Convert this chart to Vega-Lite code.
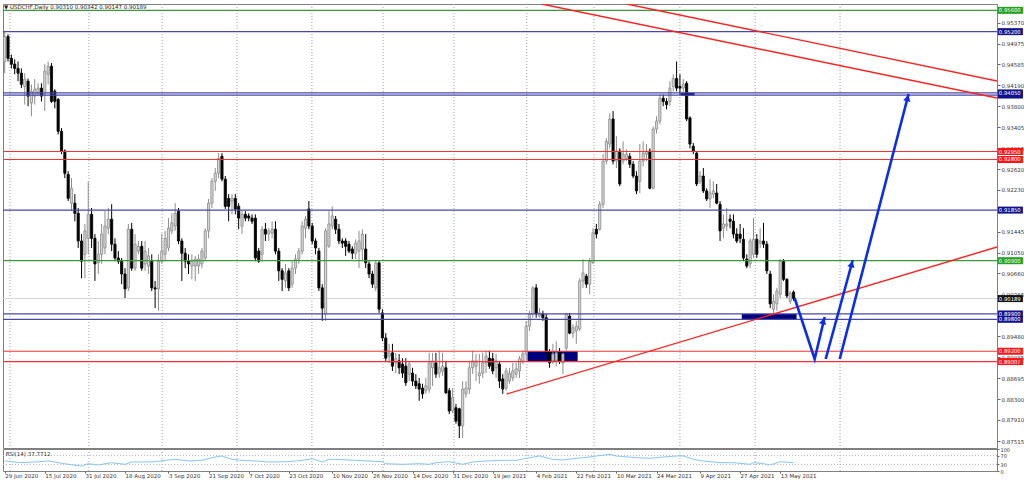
{
"$schema": "https://vega.github.io/schema/vega-lite/v6.json",
"background": "white",
"padding": {"left": 2, "top": 3, "right": 0, "bottom": 0},
"spacing": 1,
"bounds": "flush",
"config": {
 "view": {"stroke": "#808080", "strokeWidth": 1},
 "font": "DejaVu Sans",
 "scale": {"continuousPadding": 0},
 "axis": {"labelFont": "DejaVu Sans", "labelFontSize": 5.5, "labelColor": "#333333", "tickColor": "#666666", "domain": false, "grid": false}
},
"datasets": {
 "months": [{"i":1.6},{"i":25.2},{"i":47.1},{"i":69.5},{"i":91.9},{"i":113.2},{"i":134.4},{"i":156.2},{"i":176.3},{"i":202},{"i":224.5},{"i":249.9}],
 "levels": [
  {"p":0.956,"kind":"target"},{"p":0.952,"kind":"level"},{"p":0.9401,"kind":"level"},{"p":0.9405,"kind":"level"},
  {"p":0.9295,"kind":"zone"},{"p":0.928,"kind":"zone"},{"p":0.9185,"kind":"level"},{"p":0.909,"kind":"target"},
  {"p":0.899,"kind":"level"},{"p":0.898,"kind":"level"},{"p":0.892,"kind":"zone"},{"p":0.89007,"kind":"zone"}
 ],
 "tags": [
  {"p":0.956,"kind":"target"},{"p":0.952,"kind":"level"},{"p":0.9401,"kind":"level"},{"p":0.9405,"kind":"level"},
  {"p":0.928,"kind":"zone"},{"p":0.9295,"kind":"zone"},{"p":0.9185,"kind":"level"},{"p":0.909,"kind":"target"},
  {"p":0.90189,"kind":"bid"},{"p":0.898,"kind":"level"},{"p":0.899,"kind":"level"},{"p":0.89007,"kind":"zone"},{"p":0.892,"kind":"zone"}
 ],
 "tagtexts": [
  {"p":0.956},{"p":0.952},{"p":0.9405},{"p":0.928},{"p":0.9295},{"p":0.9185},{"p":0.909},{"p":0.90189},{"p":0.898},{"p":0.899},{"p":0.89007},{"p":0.892}
 ],
 "boxes": [
  {"i1":156.4,"i2":171.4,"p1":0.892,"p2":0.89007},
  {"i1":220.5,"i2":236.9,"p1":0.899,"p2":0.898},
  {"i1":202.2,"i2":206.4,"p1":0.9405,"p2":0.94}
 ],
 "trend": [
  {"id":"t1","s":0,"i":160.6,"p":0.95719},{"id":"t1","s":1,"i":296.85,"p":0.93954},
  {"id":"t2","s":0,"i":186.1,"p":0.95719},{"id":"t2","s":1,"i":296.85,"p":0.94273},
  {"id":"t3","s":0,"i":150.2,"p":0.88398},{"id":"t3","s":1,"i":296.85,"p":0.91157}
 ],
 "arrows": [
  {"id":"a1","s":0,"i":236.3,"p":0.902},{"id":"a1","s":1,"i":242.3,"p":0.89055},{"id":"a1","s":2,"i":245.3,"p":0.89843},
  {"id":"a2","s":0,"i":245.6,"p":0.89055},{"id":"a2","s":1,"i":253.7,"p":0.90913},
  {"id":"a3","s":0,"i":249.8,"p":0.89055},{"id":"a3","s":1,"i":270.4,"p":0.94029}
 ],
 "heads": [{"id":"a1","i":244.9,"p":0.89768},{"id":"a2","i":253.4,"p":0.90838},{"id":"a3","i":270.1,"p":0.93954}],
 "rsi": [
  {"i":0,"v":45.5},{"i":2,"v":42.4},{"i":5,"v":37.9},{"i":9,"v":40.9},{"i":13,"v":45.5},{"i":15,"v":40.9},{"i":19,"v":30.3},{"i":23,"v":22.7},{"i":25,"v":33.3},{"i":28,"v":27.3},{"i":32,"v":37.9},{"i":36,"v":30.3},{"i":38,"v":40.9},{"i":41,"v":40.9},{"i":45,"v":42.4},{"i":48,"v":48.5},{"i":51,"v":53},{"i":55,"v":45.5},{"i":59,"v":48.5},{"i":62,"v":60.6},{"i":65,"v":68.2},{"i":68,"v":53},{"i":71,"v":48.5},{"i":75,"v":45.5},{"i":79,"v":40.9},{"i":85,"v":42.4},{"i":89,"v":48.5},{"i":92,"v":56},{"i":95,"v":40.9},{"i":97,"v":53},{"i":99,"v":53},{"i":105,"v":48.5},{"i":109,"v":45.5},{"i":113,"v":42.4},{"i":114,"v":33.3},{"i":119,"v":30.3},{"i":124,"v":33.3},{"i":127,"v":30.3},{"i":129,"v":37.9},{"i":133,"v":42.4},{"i":137,"v":30.3},{"i":140,"v":40.9},{"i":144,"v":45.5},{"i":149,"v":48.5},{"i":153,"v":48.5},{"i":157,"v":60.6},{"i":160,"v":68.2},{"i":164,"v":53},{"i":167,"v":50},{"i":171,"v":57.6},{"i":175,"v":63.6},{"i":177,"v":68.2},{"i":181,"v":75.8},{"i":183,"v":68.2},{"i":189,"v":60.6},{"i":193,"v":57.6},{"i":197,"v":63.6},{"i":201,"v":68.2},{"i":203,"v":68.2},{"i":206,"v":53},{"i":209,"v":45.5},{"i":214,"v":37.9},{"i":218,"v":37.9},{"i":223,"v":30.3},{"i":224,"v":37.9},{"i":227,"v":33.3},{"i":229,"v":27.3},{"i":232,"v":42.4},{"i":236,"v":37.77}
 ],
 "candles": [
{"i":0,"o":0.9464,"h":0.9521,"l":0.9442,"c":0.9511},
{"i":1,"o":0.9511,"h":0.9515,"l":0.9464,"c":0.947},
{"i":2,"o":0.947,"h":0.9477,"l":0.9451,"c":0.9459},
{"i":3,"o":0.9459,"h":0.9468,"l":0.944,"c":0.9451},
{"i":4,"o":0.9451,"h":0.9464,"l":0.9427,"c":0.9442},
{"i":5,"o":0.9442,"h":0.9451,"l":0.9414,"c":0.9421},
{"i":6,"o":0.9417,"h":0.9442,"l":0.9383,"c":0.9431},
{"i":7,"o":0.9427,"h":0.9432,"l":0.938,"c":0.9399},
{"i":8,"o":0.9386,"h":0.9421,"l":0.9361,"c":0.9408},
{"i":9,"o":0.9399,"h":0.9431,"l":0.9383,"c":0.9412},
{"i":10,"o":0.9404,"h":0.9423,"l":0.9399,"c":0.9414},
{"i":11,"o":0.9414,"h":0.9423,"l":0.9389,"c":0.9399},
{"i":12,"o":0.9402,"h":0.9459,"l":0.9371,"c":0.9446},
{"i":13,"o":0.944,"h":0.9464,"l":0.9421,"c":0.9455},
{"i":14,"o":0.9455,"h":0.9461,"l":0.9386,"c":0.9389},
{"i":15,"o":0.9408,"h":0.9412,"l":0.9376,"c":0.9389},
{"i":16,"o":0.9393,"h":0.9395,"l":0.9327,"c":0.9333},
{"i":17,"o":0.9333,"h":0.9339,"l":0.929,"c":0.9296},
{"i":18,"o":0.9296,"h":0.9299,"l":0.9245,"c":0.9254},
{"i":19,"o":0.9252,"h":0.9258,"l":0.9202,"c":0.9207},
{"i":20,"o":0.9198,"h":0.9245,"l":0.9183,"c":0.9226},
{"i":21,"o":0.9198,"h":0.9215,"l":0.9164,"c":0.9179},
{"i":22,"o":0.9179,"h":0.9189,"l":0.9114,"c":0.9127},
{"i":23,"o":0.9127,"h":0.914,"l":0.9057,"c":0.9089},
{"i":24,"o":0.9102,"h":0.9159,"l":0.9057,"c":0.9146},
{"i":25,"o":0.9132,"h":0.9239,"l":0.9102,"c":0.9177},
{"i":26,"o":0.9177,"h":0.9189,"l":0.9114,"c":0.9132},
{"i":27,"o":0.9132,"h":0.914,"l":0.9052,"c":0.9084},
{"i":28,"o":0.9086,"h":0.9127,"l":0.9065,"c":0.9102},
{"i":29,"o":0.9102,"h":0.9159,"l":0.9084,"c":0.914},
{"i":30,"o":0.9114,"h":0.9183,"l":0.9102,"c":0.9155},
{"i":31,"o":0.9151,"h":0.9189,"l":0.914,"c":0.9168},
{"i":32,"o":0.9168,"h":0.9196,"l":0.9108,"c":0.9121},
{"i":33,"o":0.9121,"h":0.9132,"l":0.9089,"c":0.9095},
{"i":34,"o":0.9095,"h":0.9108,"l":0.9084,"c":0.9089},
{"i":35,"o":0.9089,"h":0.9095,"l":0.9046,"c":0.9065},
{"i":36,"o":0.9065,"h":0.9076,"l":0.902,"c":0.9037},
{"i":37,"o":0.9039,"h":0.9159,"l":0.9033,"c":0.9149},
{"i":38,"o":0.9149,"h":0.9161,"l":0.9071,"c":0.9076},
{"i":39,"o":0.9076,"h":0.914,"l":0.9071,"c":0.9121},
{"i":40,"o":0.9108,"h":0.9127,"l":0.9102,"c":0.9117},
{"i":41,"o":0.9117,"h":0.9127,"l":0.9071,"c":0.9076},
{"i":42,"o":0.9084,"h":0.9127,"l":0.9071,"c":0.9108},
{"i":43,"o":0.908,"h":0.9114,"l":0.9065,"c":0.9099},
{"i":44,"o":0.9089,"h":0.9102,"l":0.9033,"c":0.9039},
{"i":45,"o":0.9039,"h":0.9052,"l":0.9001,"c":0.9037},
{"i":46,"o":0.9037,"h":0.9102,"l":0.8996,"c":0.9089},
{"i":47,"o":0.9089,"h":0.914,"l":0.9084,"c":0.9108},
{"i":48,"o":0.9102,"h":0.9146,"l":0.9089,"c":0.9132},
{"i":49,"o":0.9114,"h":0.917,"l":0.9108,"c":0.9151},
{"i":50,"o":0.9146,"h":0.9179,"l":0.914,"c":0.9161},
{"i":51,"o":0.9155,"h":0.9198,"l":0.9146,"c":0.9179},
{"i":52,"o":0.9183,"h":0.9189,"l":0.9121,"c":0.9127},
{"i":53,"o":0.9127,"h":0.9132,"l":0.9052,"c":0.9104},
{"i":54,"o":0.9104,"h":0.9114,"l":0.9076,"c":0.9089},
{"i":55,"o":0.9089,"h":0.9102,"l":0.9065,"c":0.9084},
{"i":56,"o":0.908,"h":0.9102,"l":0.9055,"c":0.9089},
{"i":57,"o":0.908,"h":0.9099,"l":0.9052,"c":0.9093},
{"i":58,"o":0.908,"h":0.9102,"l":0.9065,"c":0.9093},
{"i":59,"o":0.9084,"h":0.9114,"l":0.9076,"c":0.9108},
{"i":60,"o":0.9095,"h":0.9151,"l":0.9089,"c":0.9146},
{"i":61,"o":0.9146,"h":0.9206,"l":0.9132,"c":0.9198},
{"i":62,"o":0.9198,"h":0.9245,"l":0.9189,"c":0.9239},
{"i":63,"o":0.9239,"h":0.9264,"l":0.9221,"c":0.9254},
{"i":64,"o":0.9254,"h":0.9292,"l":0.9245,"c":0.9282},
{"i":65,"o":0.9286,"h":0.9292,"l":0.9239,"c":0.9243},
{"i":66,"o":0.9243,"h":0.9249,"l":0.9187,"c":0.9192},
{"i":67,"o":0.9207,"h":0.9215,"l":0.9164,"c":0.9192},
{"i":68,"o":0.9202,"h":0.9215,"l":0.9177,"c":0.9207},
{"i":69,"o":0.9207,"h":0.9215,"l":0.9177,"c":0.9187},
{"i":70,"o":0.9192,"h":0.9198,"l":0.9149,"c":0.917},
{"i":71,"o":0.9155,"h":0.9183,"l":0.914,"c":0.9177},
{"i":72,"o":0.9177,"h":0.9183,"l":0.9164,"c":0.917},
{"i":73,"o":0.9174,"h":0.9179,"l":0.9164,"c":0.917},
{"i":74,"o":0.917,"h":0.9177,"l":0.9159,"c":0.9164},
{"i":75,"o":0.917,"h":0.9177,"l":0.9089,"c":0.9095},
{"i":76,"o":0.9108,"h":0.9114,"l":0.9086,"c":0.9089},
{"i":77,"o":0.9102,"h":0.9155,"l":0.9089,"c":0.9149},
{"i":78,"o":0.9149,"h":0.9161,"l":0.9127,"c":0.914},
{"i":79,"o":0.914,"h":0.9151,"l":0.9127,"c":0.9146},
{"i":80,"o":0.9142,"h":0.9164,"l":0.9132,"c":0.9149},
{"i":81,"o":0.9149,"h":0.9164,"l":0.9102,"c":0.9108},
{"i":82,"o":0.9108,"h":0.9114,"l":0.9052,"c":0.9071},
{"i":83,"o":0.9071,"h":0.9076,"l":0.9033,"c":0.9055},
{"i":84,"o":0.9052,"h":0.9084,"l":0.9039,"c":0.9067},
{"i":85,"o":0.9071,"h":0.9076,"l":0.9033,"c":0.9039},
{"i":86,"o":0.9046,"h":0.9089,"l":0.9039,"c":0.9076},
{"i":87,"o":0.9076,"h":0.9102,"l":0.9065,"c":0.9093},
{"i":88,"o":0.9093,"h":0.9114,"l":0.9084,"c":0.9108},
{"i":89,"o":0.9108,"h":0.9164,"l":0.9102,"c":0.9155},
{"i":90,"o":0.9151,"h":0.9174,"l":0.9132,"c":0.9168},
{"i":91,"o":0.9187,"h":0.9202,"l":0.9149,"c":0.9155},
{"i":92,"o":0.9155,"h":0.9161,"l":0.9121,"c":0.9127},
{"i":93,"o":0.9127,"h":0.9132,"l":0.9102,"c":0.9114},
{"i":94,"o":0.9108,"h":0.9114,"l":0.9033,"c":0.9039},
{"i":95,"o":0.9039,"h":0.9046,"l":0.8977,"c":0.9001},
{"i":96,"o":0.899,"h":0.9151,"l":0.8977,"c":0.9146},
{"i":97,"o":0.9117,"h":0.9183,"l":0.9114,"c":0.9159},
{"i":98,"o":0.9155,"h":0.9192,"l":0.9149,"c":0.9174},
{"i":99,"o":0.9168,"h":0.9174,"l":0.914,"c":0.9149},
{"i":100,"o":0.9149,"h":0.9159,"l":0.9121,"c":0.9127},
{"i":101,"o":0.9127,"h":0.9132,"l":0.9114,"c":0.9123},
{"i":102,"o":0.9127,"h":0.9132,"l":0.9099,"c":0.9117},
{"i":103,"o":0.9121,"h":0.9127,"l":0.9104,"c":0.9108},
{"i":104,"o":0.9112,"h":0.9117,"l":0.9093,"c":0.9104},
{"i":105,"o":0.9104,"h":0.913,"l":0.9093,"c":0.9123},
{"i":106,"o":0.9108,"h":0.9146,"l":0.9076,"c":0.9127},
{"i":107,"o":0.9112,"h":0.9149,"l":0.9089,"c":0.914},
{"i":108,"o":0.9112,"h":0.914,"l":0.9076,"c":0.9086},
{"i":109,"o":0.9084,"h":0.9089,"l":0.9057,"c":0.9065},
{"i":110,"o":0.9065,"h":0.9071,"l":0.9039,"c":0.9046},
{"i":111,"o":0.9039,"h":0.9089,"l":0.9033,"c":0.9086},
{"i":112,"o":0.9086,"h":0.9089,"l":0.8992,"c":0.8999},
{"i":113,"o":0.8992,"h":0.8999,"l":0.8939,"c":0.8945},
{"i":114,"o":0.8945,"h":0.8954,"l":0.8902,"c":0.8907},
{"i":115,"o":0.8911,"h":0.8934,"l":0.8898,"c":0.8917},
{"i":116,"o":0.8917,"h":0.8934,"l":0.8883,"c":0.8892},
{"i":117,"o":0.8898,"h":0.8917,"l":0.8879,"c":0.8906},
{"i":118,"o":0.8902,"h":0.8915,"l":0.8877,"c":0.8889},
{"i":119,"o":0.8896,"h":0.8907,"l":0.887,"c":0.8879},
{"i":120,"o":0.8892,"h":0.8907,"l":0.8855,"c":0.8861},
{"i":121,"o":0.8877,"h":0.8902,"l":0.8864,"c":0.8896},
{"i":122,"o":0.8879,"h":0.8889,"l":0.8855,"c":0.8864},
{"i":123,"o":0.8864,"h":0.8877,"l":0.8849,"c":0.8855},
{"i":124,"o":0.8859,"h":0.887,"l":0.8827,"c":0.8849},
{"i":125,"o":0.8851,"h":0.8859,"l":0.8831,"c":0.884},
{"i":126,"o":0.8846,"h":0.887,"l":0.884,"c":0.8855},
{"i":127,"o":0.8849,"h":0.8917,"l":0.8842,"c":0.8898},
{"i":128,"o":0.8889,"h":0.8917,"l":0.8855,"c":0.8902},
{"i":129,"o":0.8898,"h":0.8917,"l":0.887,"c":0.8877},
{"i":130,"o":0.8879,"h":0.8921,"l":0.887,"c":0.8889},
{"i":131,"o":0.8883,"h":0.8917,"l":0.8874,"c":0.8892},
{"i":132,"o":0.8889,"h":0.8902,"l":0.884,"c":0.8842},
{"i":133,"o":0.8846,"h":0.8851,"l":0.8802,"c":0.8808},
{"i":134,"o":0.8808,"h":0.8851,"l":0.8804,"c":0.8833},
{"i":135,"o":0.8814,"h":0.8821,"l":0.8784,"c":0.8789},
{"i":136,"o":0.8812,"h":0.8814,"l":0.8757,"c":0.878},
{"i":137,"o":0.878,"h":0.8864,"l":0.8757,"c":0.8849},
{"i":138,"o":0.884,"h":0.8864,"l":0.8833,"c":0.8851},
{"i":139,"o":0.8849,"h":0.8902,"l":0.884,"c":0.8889},
{"i":140,"o":0.8889,"h":0.8921,"l":0.8877,"c":0.8902},
{"i":141,"o":0.8892,"h":0.8915,"l":0.8864,"c":0.8902},
{"i":142,"o":0.8874,"h":0.8915,"l":0.8859,"c":0.8879},
{"i":143,"o":0.8879,"h":0.8917,"l":0.887,"c":0.8898},
{"i":144,"o":0.8898,"h":0.8921,"l":0.8879,"c":0.8911},
{"i":145,"o":0.8907,"h":0.8921,"l":0.8887,"c":0.8892},
{"i":146,"o":0.8906,"h":0.8917,"l":0.8877,"c":0.8883},
{"i":147,"o":0.8889,"h":0.8915,"l":0.887,"c":0.8902},
{"i":148,"o":0.8896,"h":0.8902,"l":0.8851,"c":0.8864},
{"i":149,"o":0.8868,"h":0.8877,"l":0.884,"c":0.8849},
{"i":150,"o":0.8851,"h":0.8889,"l":0.8846,"c":0.8883},
{"i":151,"o":0.8864,"h":0.8889,"l":0.8859,"c":0.8879},
{"i":152,"o":0.887,"h":0.8898,"l":0.8864,"c":0.8883},
{"i":153,"o":0.8877,"h":0.8898,"l":0.887,"c":0.8887},
{"i":154,"o":0.8883,"h":0.8911,"l":0.887,"c":0.8906},
{"i":155,"o":0.8902,"h":0.8921,"l":0.8896,"c":0.8915},
{"i":156,"o":0.8915,"h":0.8977,"l":0.8902,"c":0.8967},
{"i":157,"o":0.8967,"h":0.8996,"l":0.8958,"c":0.899},
{"i":158,"o":0.899,"h":0.9042,"l":0.8983,"c":0.9039},
{"i":159,"o":0.9039,"h":0.9046,"l":0.8983,"c":0.899},
{"i":160,"o":0.8986,"h":0.9001,"l":0.8983,"c":0.8992},
{"i":161,"o":0.899,"h":0.8996,"l":0.8977,"c":0.8983},
{"i":162,"o":0.8983,"h":0.899,"l":0.8915,"c":0.8917},
{"i":163,"o":0.8917,"h":0.8924,"l":0.8889,"c":0.8898},
{"i":164,"o":0.8902,"h":0.8934,"l":0.8896,"c":0.8915},
{"i":165,"o":0.8902,"h":0.8939,"l":0.8892,"c":0.8917},
{"i":166,"o":0.8917,"h":0.8926,"l":0.8896,"c":0.8902},
{"i":167,"o":0.8898,"h":0.8917,"l":0.8877,"c":0.8915},
{"i":168,"o":0.8926,"h":0.8992,"l":0.8921,"c":0.899},
{"i":169,"o":0.8986,"h":0.8992,"l":0.8952,"c":0.8954},
{"i":170,"o":0.8954,"h":0.8971,"l":0.8945,"c":0.8964},
{"i":171,"o":0.8958,"h":0.8977,"l":0.8934,"c":0.8967},
{"i":172,"o":0.8962,"h":0.9057,"l":0.8958,"c":0.9052},
{"i":173,"o":0.9052,"h":0.9093,"l":0.9039,"c":0.9067},
{"i":174,"o":0.9061,"h":0.9065,"l":0.9039,"c":0.9046},
{"i":175,"o":0.9046,"h":0.9095,"l":0.9027,"c":0.9089},
{"i":176,"o":0.9086,"h":0.9151,"l":0.9084,"c":0.9142},
{"i":177,"o":0.9149,"h":0.9159,"l":0.9132,"c":0.914},
{"i":178,"o":0.9149,"h":0.9202,"l":0.9146,"c":0.9196},
{"i":179,"o":0.9196,"h":0.929,"l":0.9189,"c":0.9277},
{"i":180,"o":0.9277,"h":0.932,"l":0.9271,"c":0.9314},
{"i":181,"o":0.9309,"h":0.9367,"l":0.9301,"c":0.9356},
{"i":182,"o":0.9356,"h":0.9371,"l":0.9271,"c":0.9277},
{"i":183,"o":0.9277,"h":0.9324,"l":0.9264,"c":0.9296},
{"i":184,"o":0.9296,"h":0.9301,"l":0.923,"c":0.9234},
{"i":185,"o":0.9277,"h":0.9314,"l":0.9271,"c":0.929},
{"i":186,"o":0.9282,"h":0.9299,"l":0.9277,"c":0.929},
{"i":187,"o":0.9286,"h":0.9292,"l":0.9264,"c":0.9271},
{"i":188,"o":0.9271,"h":0.9277,"l":0.9245,"c":0.9249},
{"i":189,"o":0.9249,"h":0.9258,"l":0.9215,"c":0.9221},
{"i":190,"o":0.9239,"h":0.9309,"l":0.9217,"c":0.9277},
{"i":191,"o":0.9277,"h":0.9314,"l":0.9267,"c":0.9292},
{"i":192,"o":0.929,"h":0.9309,"l":0.9277,"c":0.9296},
{"i":193,"o":0.9296,"h":0.9301,"l":0.9224,"c":0.9226},
{"i":194,"o":0.9226,"h":0.9342,"l":0.9224,"c":0.9337},
{"i":195,"o":0.9337,"h":0.9361,"l":0.9329,"c":0.9352},
{"i":196,"o":0.9352,"h":0.9402,"l":0.9346,"c":0.9395},
{"i":197,"o":0.9395,"h":0.9402,"l":0.938,"c":0.9389},
{"i":198,"o":0.9389,"h":0.9395,"l":0.9374,"c":0.9383},
{"i":199,"o":0.9389,"h":0.9427,"l":0.938,"c":0.9414},
{"i":200,"o":0.9417,"h":0.944,"l":0.9408,"c":0.9432},
{"i":201,"o":0.9432,"h":0.9464,"l":0.9408,"c":0.9414},
{"i":202,"o":0.9417,"h":0.944,"l":0.9402,"c":0.9414},
{"i":203,"o":0.9414,"h":0.9431,"l":0.9404,"c":0.9421},
{"i":204,"o":0.9423,"h":0.9427,"l":0.9352,"c":0.9356},
{"i":205,"o":0.9358,"h":0.9361,"l":0.9301,"c":0.9309},
{"i":206,"o":0.9305,"h":0.9311,"l":0.929,"c":0.9296},
{"i":207,"o":0.9292,"h":0.9296,"l":0.923,"c":0.9234},
{"i":208,"o":0.9239,"h":0.9258,"l":0.9234,"c":0.9249},
{"i":209,"o":0.9249,"h":0.9264,"l":0.9217,"c":0.9221},
{"i":210,"o":0.9221,"h":0.9226,"l":0.9202,"c":0.9206},
{"i":211,"o":0.9206,"h":0.9243,"l":0.9189,"c":0.9217},
{"i":212,"o":0.9215,"h":0.9239,"l":0.9207,"c":0.9221},
{"i":213,"o":0.9217,"h":0.9234,"l":0.9196,"c":0.9198},
{"i":214,"o":0.9196,"h":0.9202,"l":0.9127,"c":0.9146},
{"i":215,"o":0.9151,"h":0.9177,"l":0.9132,"c":0.9159},
{"i":216,"o":0.9155,"h":0.9189,"l":0.9146,"c":0.9159},
{"i":217,"o":0.9168,"h":0.9177,"l":0.9151,"c":0.9164},
{"i":218,"o":0.9164,"h":0.9177,"l":0.9132,"c":0.914},
{"i":219,"o":0.914,"h":0.9151,"l":0.9123,"c":0.9127},
{"i":220,"o":0.914,"h":0.9159,"l":0.9123,"c":0.9132},
{"i":221,"o":0.913,"h":0.9151,"l":0.9089,"c":0.9095},
{"i":222,"o":0.9093,"h":0.9102,"l":0.9076,"c":0.908},
{"i":223,"o":0.9084,"h":0.9132,"l":0.9076,"c":0.9127},
{"i":224,"o":0.9102,"h":0.917,"l":0.9095,"c":0.913},
{"i":225,"o":0.913,"h":0.914,"l":0.9095,"c":0.9102},
{"i":226,"o":0.9123,"h":0.9151,"l":0.9114,"c":0.9127},
{"i":227,"o":0.9127,"h":0.9161,"l":0.9114,"c":0.9121},
{"i":228,"o":0.9121,"h":0.9127,"l":0.9065,"c":0.9071},
{"i":229,"o":0.9065,"h":0.9071,"l":0.9001,"c":0.9009},
{"i":230,"o":0.8999,"h":0.9027,"l":0.8992,"c":0.9014},
{"i":231,"o":0.9009,"h":0.9039,"l":0.8996,"c":0.9033},
{"i":232,"o":0.9027,"h":0.9093,"l":0.902,"c":0.9089},
{"i":233,"o":0.9089,"h":0.9093,"l":0.9052,"c":0.9055},
{"i":234,"o":0.9055,"h":0.9057,"l":0.902,"c":0.9024},
{"i":235,"o":0.9014,"h":0.9033,"l":0.9009,"c":0.9029},
{"i":236,"o":0.9031,"h":0.90342,"l":0.90147,"c":0.90189}
 ]
},
"vconcat": [
 {
  "width": 994, "height": 444,
  "encoding": {
   "y": {"type": "quantitative", "scale": {"domain": [0.87384, 0.95719], "nice": false, "zero": false, "padding": 0},
    "axis": {"orient": "right", "title": null, "values": [0.9537, 0.94975, 0.94585, 0.9419, 0.938, 0.93405, 0.93015, 0.9262, 0.9223, 0.91445, 0.9105, 0.9066, 0.90265, 0.8948, 0.89085, 0.88695, 0.883, 0.8791, 0.87515],
     "format": ".5f", "labelFontSize": 5.5, "tickSize": 3, "labelPadding": 1, "labelOverlap": false, "labelBound": false, "labelFlush": false, "labelSeparation": 0, "zindex": 0}}
  },
  "layer": [
   {"data": {"name": "months"}, "mark": {"type": "rule", "color": "#a0a0a0", "strokeDash": [1, 2], "strokeWidth": 1, "clip": true},
    "encoding": {"x": {"field": "i", "type": "quantitative", "scale": {"domain": [-0.5, 296.85], "nice": false, "zero": false, "padding": 0}, "axis": null}, "y": null}},
   {"data": {"values": [{"p": 0.90189}]}, "mark": {"type": "rule", "color": "#d6d6d6", "strokeWidth": 1, "clip": true},
    "encoding": {"y": {"field": "p"}}},
   {"data": {"name": "boxes"}, "mark": {"type": "rect", "color": "#00007c", "clip": true},
    "encoding": {"x": {"field": "i1", "type": "quantitative", "scale": {"domain": [-0.5, 296.85], "nice": false, "zero": false, "padding": 0}, "axis": null}, "x2": {"field": "i2"},
     "y": {"field": "p1"}, "y2": {"field": "p2"}}},
   {"data": {"name": "candles"}, "mark": {"type": "rule", "strokeWidth": 1, "clip": true},
    "encoding": {"x": {"field": "i", "type": "quantitative", "scale": {"domain": [-0.5, 296.85], "nice": false, "zero": false, "padding": 0}, "axis": null},
     "y": {"field": "l"}, "y2": {"field": "h"},
     "color": {"condition": {"test": "datum.c >= datum.o", "value": "#8c8c8c"}, "value": "#000000"}}},
   {"data": {"name": "candles"}, "mark": {"type": "bar", "orient": "vertical", "size": 2.2, "strokeWidth": 0.8, "clip": true},
    "encoding": {"x": {"field": "i", "type": "quantitative", "scale": {"domain": [-0.5, 296.85], "nice": false, "zero": false, "padding": 0}, "axis": null},
     "y": {"field": "o"}, "y2": {"field": "c"},
     "fill": {"condition": {"test": "datum.c >= datum.o", "value": "#d4d4d4"}, "value": "#000000"},
     "stroke": {"condition": {"test": "datum.c >= datum.o", "value": "#8a8a8a"}, "value": "#000000"}}},
   {"data": {"name": "levels"}, "mark": {"type": "rule", "strokeWidth": 1.2, "clip": true},
    "encoding": {"y": {"field": "p"},
     "color": {"condition": [{"test": "datum.kind == 'target'", "value": "#3a9a3a"}, {"test": "datum.kind == 'zone'", "value": "#ff3030"}], "value": "#4848a8"}}},
   {"data": {"name": "trend"}, "mark": {"type": "line", "color": "#ff2020", "strokeWidth": 1.4, "clip": true},
    "encoding": {"x": {"field": "i", "type": "quantitative", "scale": {"domain": [-0.5, 296.85], "nice": false, "zero": false, "padding": 0}, "axis": null},
     "y": {"field": "p"}, "detail": {"field": "id"}, "order": {"field": "s"}}},
   {"data": {"name": "arrows"}, "mark": {"type": "line", "color": "#0a2cf0", "strokeWidth": 2.6, "clip": true},
    "encoding": {"x": {"field": "i", "type": "quantitative", "scale": {"domain": [-0.5, 296.85], "nice": false, "zero": false, "padding": 0}, "axis": null},
     "y": {"field": "p"}, "detail": {"field": "id"}, "order": {"field": "s"}}},
   {"data": {"name": "heads"}, "mark": {"type": "point", "shape": "triangle-up", "filled": true, "size": 55, "angle": 14.5, "color": "#0a2cf0", "opacity": 1, "clip": true},
    "encoding": {"x": {"field": "i", "type": "quantitative", "scale": {"domain": [-0.5, 296.85], "nice": false, "zero": false, "padding": 0}, "axis": null},
     "y": {"field": "p"}}},
   {"data": {"name": "tags"}, "mark": {"type": "bar", "orient": "horizontal", "size": 7},
    "encoding": {"x": {"datum": 297.1, "type": "quantitative", "scale": {"domain": [-0.5, 296.85], "nice": false, "zero": false, "padding": 0}, "axis": null}, "x2": {"datum": 304.6},
     "y": {"field": "p"},
     "color": {"condition": [{"test": "datum.kind == 'target'", "value": "#22a022"}, {"test": "datum.kind == 'zone'", "value": "#ff1414"}, {"test": "datum.kind == 'bid'", "value": "#111111"}], "value": "#12128c"}}},
   {"data": {"name": "tagtexts"}, "mark": {"type": "text", "align": "left", "baseline": "middle", "fontSize": 5.3, "color": "white", "font": "DejaVu Sans"},
    "encoding": {"x": {"datum": 297.4, "type": "quantitative", "scale": {"domain": [-0.5, 296.85], "nice": false, "zero": false, "padding": 0}, "axis": null},
     "y": {"field": "p"},
     "text": {"field": "p", "type": "quantitative", "format": ".5f"}}},
   {"data": {"values": [{"t": "▼ USDCHF,Daily  0.90310 0.90342 0.90147 0.90189"}]}, "mark": {"type": "text", "align": "left", "baseline": "middle", "fontSize": 5.5, "color": "#222222", "font": "DejaVu Sans", "clip": true},
    "encoding": {"x": {"datum": -0.2, "type": "quantitative", "scale": {"domain": [-0.5, 296.85], "nice": false, "zero": false, "padding": 0}, "axis": null},
     "y": {"datum": 0.95662},
     "text": {"field": "t"}}}
  ]
 },
 {
  "width": 994, "height": 22,
  "encoding": {
   "x": {"type": "quantitative", "scale": {"domain": [-0.5, 296.85], "nice": false, "zero": false, "padding": 0},
    "axis": {"orient": "bottom", "title": null, "values": [0, 12, 24, 36, 49, 61, 73, 85, 98, 110, 122, 134, 146, 159, 171, 183, 195, 208, 220, 232],
     "labelExpr": "{'0':'29 Jun 2020','12':'15 Jul 2020','24':'31 Jul 2020','36':'18 Aug 2020','49':'3 Sep 2020','61':'21 Sep 2020','73':'7 Oct 2020','85':'23 Oct 2020','98':'10 Nov 2020','110':'26 Nov 2020','122':'14 Dec 2020','134':'31 Dec 2020','146':'19 Jan 2021','159':'4 Feb 2021','171':'22 Feb 2021','183':'10 Mar 2021','195':'24 Mar 2021','208':'9 Apr 2021','220':'27 Apr 2021','232':'13 May 2021'}[datum.value]",
     "labelAlign": "left", "labelFontSize": 5.5, "tickSize": 2, "labelPadding": 0, "labelOverlap": false, "labelBound": false, "labelFlush": false, "labelSeparation": 0}},
   "y": {"type": "quantitative", "scale": {"domain": [0, 100], "nice": false, "zero": false, "padding": 0},
    "axis": {"orient": "right", "title": null, "values": [0, 30, 70, 100], "labelFontSize": 5, "tickSize": 2, "labelPadding": 1, "labelOverlap": false, "labelBound": false, "labelFlush": false, "labelSeparation": 0}}
  },
  "layer": [
   {"data": {"name": "months"}, "mark": {"type": "rule", "color": "#a0a0a0", "strokeDash": [1, 2], "strokeWidth": 1, "clip": true},
    "encoding": {"x": {"field": "i"}, "y": null}},
   {"data": {"values": [{"v": 30}, {"v": 70}]}, "mark": {"type": "rule", "color": "#b0b0b0", "strokeDash": [1, 2], "strokeWidth": 1, "clip": true},
    "encoding": {"y": {"field": "v"}, "x": null}},
   {"data": {"name": "rsi"}, "mark": {"type": "line", "color": "#88c4f4", "strokeWidth": 1, "clip": true},
    "encoding": {"x": {"field": "i"}, "y": {"field": "v"}}},
   {"data": {"values": [{"t": "RSI(14) 37.7712"}]}, "mark": {"type": "text", "align": "left", "baseline": "middle", "fontSize": 5.5, "color": "#333333", "font": "DejaVu Sans", "clip": true},
    "encoding": {"x": {"datum": 0.3}, "y": {"datum": 77}, "text": {"field": "t"}}}
  ]
 }
]
}
